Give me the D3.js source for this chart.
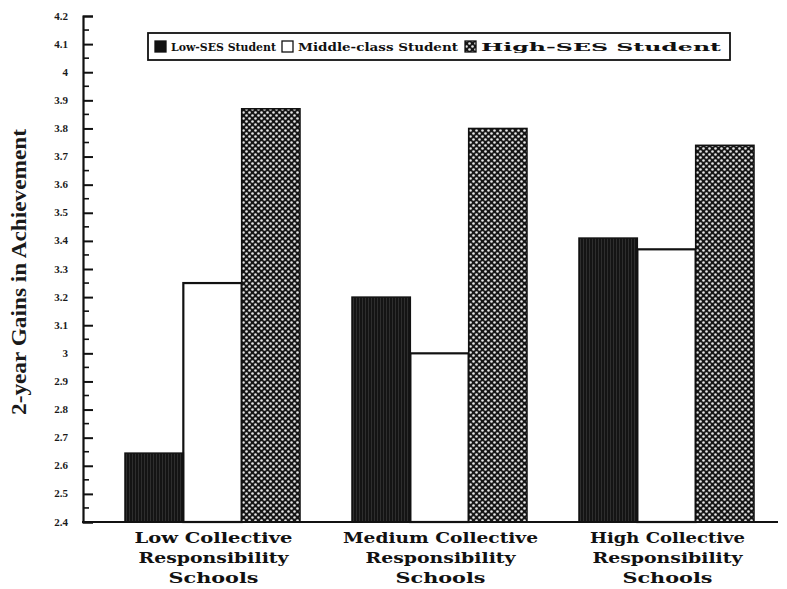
<!DOCTYPE html>
<html>
<head>
<meta charset="utf-8">
<script src="https://cdn.jsdelivr.net/npm/d3@7"></script>
<style>
  html, body { margin: 0; padding: 0; background: #fff; }
  svg { display: block; }
</style>
</head>
<body>
<svg id="chart" width="787" height="589"></svg>
<script>
// ---- data ----
const groups = [
  ["Low Collective", "Responsibility", "Schools"],
  ["Medium Collective", "Responsibility", "Schools"],
  ["High Collective", "Responsibility", "Schools"]
];
const groupKeys = ["low", "medium", "high"];
const seriesNames = ["Low-SES Student", "Middle-class Student", "High-SES Student"];
const lowSES = [2.645, 3.20, 3.41];
const middleClass = [3.25, 3.00, 3.37];
const highSES = [3.87, 3.80, 3.74];
const yTicks = [2.4, 2.5, 2.6, 2.7, 2.8, 2.9, 3, 3.1, 3.2, 3.3, 3.4, 3.5, 3.6, 3.7, 3.8, 3.9, 4, 4.1, 4.2];
const yTitle = "2-year Gains in Achievement";

const seriesValues = [lowSES, middleClass, highSES];
const svg = d3.select("#chart");
const serif = "'Liberation Serif', 'DejaVu Serif', serif";
const wideSerif = "'DejaVu Serif', 'Liberation Serif', serif";

// ---- patterns ----
const defs = svg.append("defs");
const dots = defs.append("pattern").attr("id", "dots")
  .attr("patternUnits", "userSpaceOnUse").attr("width", 6).attr("height", 6);
dots.append("rect").attr("width", 6).attr("height", 6).attr("fill", "#161616");
dots.append("circle").attr("cx", 1.5).attr("cy", 1.5).attr("r", 1.3).attr("fill", "#e6e6e6");
dots.append("circle").attr("cx", 4.5).attr("cy", 4.5).attr("r", 1.3).attr("fill", "#e6e6e6");

const dark = defs.append("pattern").attr("id", "dark")
  .attr("patternUnits", "userSpaceOnUse").attr("width", 3).attr("height", 3);
dark.append("rect").attr("width", 3).attr("height", 3).attr("fill", "#141414");
dark.append("rect").attr("x", 1).attr("width", 1).attr("height", 3).attr("fill", "#2e2e2e");

const fills = ["url(#dark)", "#ffffff", "url(#dots)"];

// ---- scales ----
const y = d3.scaleLinear().domain([2.4, 4.2]).range([522, 16]);
const x0 = d3.scaleBand().domain(groupKeys).range([83, 796])
  .paddingInner(0.229).paddingOuter(0.185);
const x1 = d3.scaleBand().domain(d3.range(3)).range([0, x0.bandwidth()]).padding(0);

// ---- bars ----
const g = svg.append("g");
groupKeys.forEach((k, gi) => {
  const gg = g.append("g").attr("transform", `translate(${x0(k)},0)`);
  [1, 0, 2].forEach(si => {
    const v = seriesValues[si][gi];
    gg.append("rect")
      .attr("x", x1(si))
      .attr("y", y(v))
      .attr("width", x1.bandwidth())
      .attr("height", y(2.4) - y(v))
      .attr("fill", fills[si])
      .attr("stroke", "#111")
      .attr("stroke-width", si === 1 ? 2.2 : 1.5);
  });
});

// ---- y axis ----
const yAxis = d3.axisRight(y).tickValues(yTicks).tickSize(10).tickFormat("");
const ya = svg.append("g").attr("transform", "translate(83,0)").call(yAxis);
ya.select(".domain").attr("stroke", "#111").attr("stroke-width", 2.2);
ya.selectAll(".tick line").attr("stroke", "#111").attr("stroke-width", 2);
const minor = d3.range(2.45, 4.2, 0.1);
svg.append("g").selectAll("line").data(minor).join("line")
  .attr("x1", 83).attr("x2", 89)
  .attr("y1", d => y(d)).attr("y2", d => y(d))
  .attr("stroke", "#111").attr("stroke-width", 1.6);
svg.append("g").selectAll("text").data(yTicks).join("text")
  .attr("x", 68).attr("y", d => y(d) + 3.5)
  .attr("text-anchor", "end")
  .attr("font-family", serif).attr("font-weight", "bold").attr("font-size", 11)
  .attr("fill", "#1a1a1a")
  .text(d => String(+d.toFixed(1)));

// ---- x axis line ----
svg.append("line").attr("x1", 82).attr("x2", 778).attr("y1", y(2.4)).attr("y2", y(2.4))
  .attr("stroke", "#111").attr("stroke-width", 2);

// ---- y title ----
svg.append("text")
  .attr("transform", `translate(26,${(y(2.4) + y(4.2)) / 2 + 3}) rotate(-90)`)
  .attr("text-anchor", "middle")
  .attr("font-family", serif).attr("font-size", 21).attr("font-weight", "bold")
  .attr("textLength", 286).attr("lengthAdjust", "spacingAndGlyphs")
  .attr("fill", "#1a1a1a")
  .text(yTitle);

// ---- x labels ----
const lineWidths = [[158, 150, 90], [195, 150, 90], [155, 150, 90]];
groupKeys.forEach((k, gi) => {
  const cx = x0(k) + x0.bandwidth() / 2 + 1;
  groups[gi].forEach((line, li) => {
    svg.append("text")
      .attr("x", cx - lineWidths[gi][li] / 2)
      .attr("y", 543 + li * 20)
      .attr("font-family", wideSerif).attr("font-weight", "bold").attr("font-size", 15.5)
      .attr("textLength", lineWidths[gi][li]).attr("lengthAdjust", "spacingAndGlyphs")
      .attr("fill", "#111")
      .text(line);
  });
});

// ---- legend ----
const leg = svg.append("g");
leg.append("rect").attr("x", 148).attr("y", 33).attr("width", 582).attr("height", 27)
  .attr("fill", "#fff").attr("stroke", "#111").attr("stroke-width", 1.8);
const legItems = [
  { sw: 155, tx: 171, tw: 105 },
  { sw: 282, tx: 298, tw: 160 },
  { sw: 465, tx: 481, tw: 240 }
];
legItems.forEach((it, i) => {
  leg.append("rect").attr("x", it.sw).attr("y", 41).attr("width", 11).attr("height", 11)
    .attr("fill", i === 2 ? "url(#dots)" : (i === 0 ? "#111" : "#fff"))
    .attr("stroke", "#111").attr("stroke-width", 1.3);
  leg.append("text").attr("x", it.tx).attr("y", 51)
    .attr("font-family", wideSerif).attr("font-weight", "bold").attr("font-size", 11.5)
    .attr("textLength", it.tw).attr("lengthAdjust", "spacingAndGlyphs")
    .attr("fill", "#111")
    .text(seriesNames[i]);
});
</script>
</body>
</html>
